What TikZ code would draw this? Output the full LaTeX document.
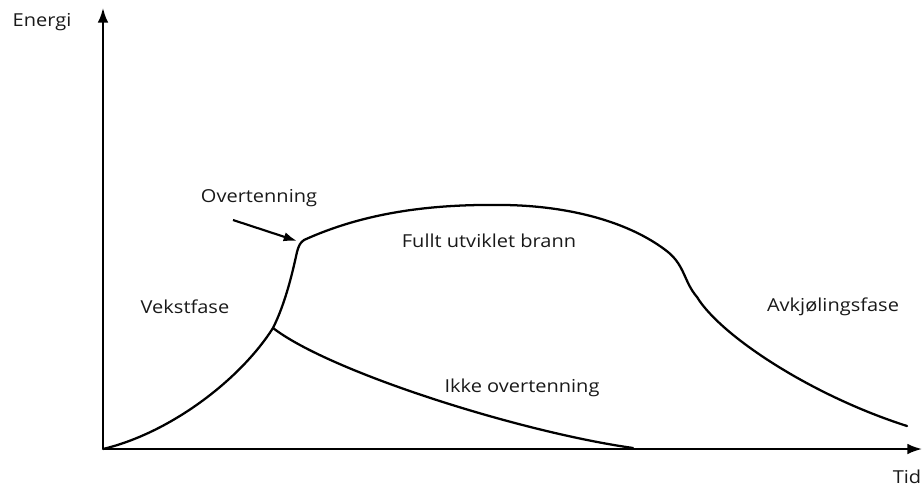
\documentclass[tikz,border=0pt]{standalone}
\usepackage{fontspec}
\setmainfont[FakeStretch=1.12]{Open Sans}
\usetikzlibrary{arrows.meta}

\tikzset{
  axis/.style={line width=1.5pt, -{Latex[length=11pt,width=8pt]}},
  curve/.style={line width=1.7pt, line cap=round, line join=round},
  pointer/.style={line width=1.6pt, -{Latex[length=10pt,width=7pt]}},
  label/.style={font=\fontsize{13.4}{15}\selectfont, text=black!90, inner sep=0pt}
}

\begin{document}
\begin{tikzpicture}[x=0.75pt, y=-0.75pt]
  \useasboundingbox (0,0) rectangle (922,490);

  % key points of the curves
  \coordinate (origin) at (103,449);
  \coordinate (ytop)   at (103,8);
  \coordinate (xend)   at (922,449);
  \coordinate (branch) at (273,328);
  \coordinate (flash)  at (297,252);
  \coordinate (corner) at (304,240);
  \coordinate (peak)   at (505,205);
  \coordinate (kink)   at (697,297);
  \coordinate (tail)   at (907,426);
  \coordinate (noend)  at (633,448);
  \coordinate (ptrstart) at (233,220);
  \coordinate (ptrend)   at (297,241);

  % axes
  \draw[axis] (origin) -- (ytop);
  \draw[axis] (origin) -- (xend);

  % fire development curve
  \draw[curve] (origin) .. controls (170,433) and (240,380) .. (branch)
    .. controls (286,302) and (293,270) .. (flash)
    .. controls (299,245) and (300,243) .. (corner)
    .. controls (370,210) and (440,204) .. (peak)
    .. controls (570,206) and (630,222) .. (668,252)
    .. controls (685,266) and (684,282) .. (kink)
    .. controls (720,335) and (810,395) .. (tail);

  % curve without flashover
  \draw[curve] (branch) .. controls (330,372) and (520,432) .. (noend);

  % pointer to flashover
  \draw[pointer] (ptrstart) -- (ptrend);

  % labels
  \node[label] (energi) at (42,22) {Energi};
  \node[label] (tid) at (907,477) {Tid};
  \node[label] (overt) at (259,198) {Overtenning};
  \node[label] (full) at (489,241) {Fullt utviklet brann};
  \node[label] (vekst) at (185,307) {Vekstfase};
  \node[label] (avkj) at (833,307) {Avkjølingsfase};
  \node[label] (ikke) at (522,388) {Ikke overtenning};
\end{tikzpicture}
\end{document}
